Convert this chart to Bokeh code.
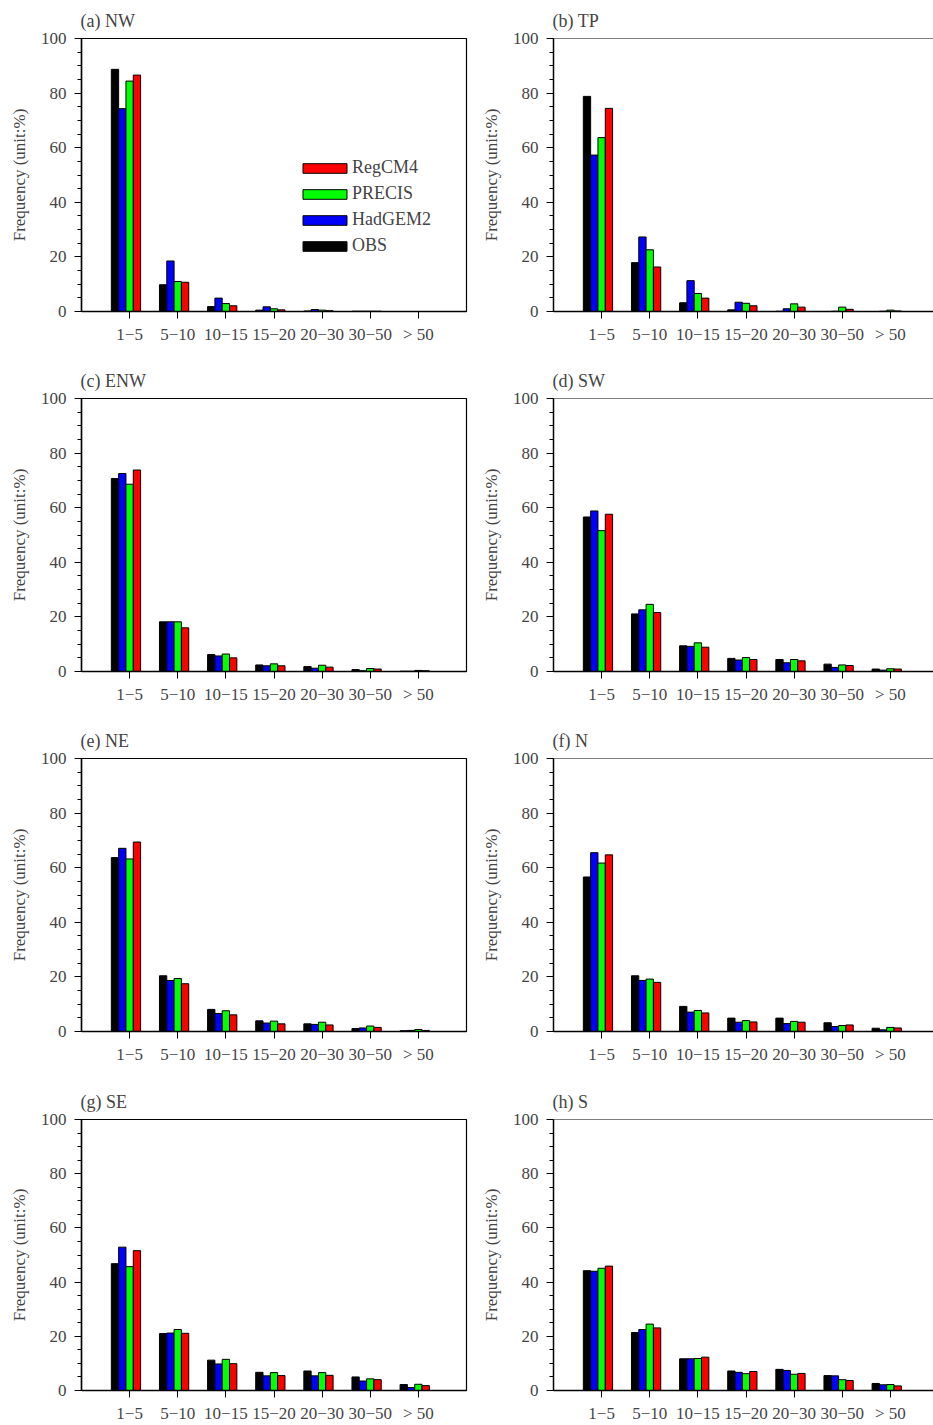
from bokeh.plotting import figure
from bokeh.models import FixedTicker, Legend, LegendItem, Span
from bokeh.layouts import column, row
from bokeh.embed import file_html
from bokeh.resources import INLINE
import numpy as np

FONT = "Liberation Serif"

categories = ["1\u22125", "5\u221210", "10\u221215", "15\u221220", "20\u221230", "30\u221250", "> 50"]
series_names = ["OBS", "HadGEM2", "PRECIS", "RegCM4"]
series_colors = ["#000000", "#0000FF", "#00FF00", "#FF0000"]
panel_titles = ["(a) NW", "(b) TP", "(c) ENW", "(d) SW", "(e) NE", "(f) N", "(g) SE", "(h) S"]
y_ticks = [0, 20, 40, 60, 80, 100]
y_label = "Frequency (unit:%)"

nw_obs = [88.7, 9.8, 1.8, 0.5, 0.2, 0.1, 0.0]
nw_had = [74.3, 18.5, 4.9, 1.7, 0.7, 0.1, 0.0]
nw_prec = [84.4, 11.0, 2.9, 1.0, 0.5, 0.1, 0.0]
nw_reg = [86.6, 10.7, 2.1, 0.6, 0.3, 0.1, 0.0]

tp_obs = [78.8, 17.9, 3.2, 0.6, 0.1, 0.0, 0.0]
tp_had = [57.3, 27.3, 11.3, 3.4, 1.0, 0.1, 0.1]
tp_prec = [63.7, 22.6, 6.6, 3.0, 2.8, 1.6, 0.5]
tp_reg = [74.4, 16.3, 4.9, 2.1, 1.6, 0.8, 0.2]

enw_obs = [70.7, 18.2, 6.2, 2.4, 1.8, 0.7, 0.1]
enw_had = [72.5, 18.2, 5.7, 2.1, 1.2, 0.3, 0.1]
enw_prec = [68.6, 18.2, 6.4, 2.8, 2.3, 1.1, 0.4]
enw_reg = [73.8, 16.0, 5.0, 2.1, 1.6, 0.9, 0.3]

sw_obs = [56.6, 21.1, 9.4, 4.8, 4.4, 2.7, 0.9]
sw_had = [58.8, 22.6, 9.2, 4.2, 3.2, 1.5, 0.5]
sw_prec = [51.6, 24.6, 10.5, 5.1, 4.4, 2.4, 1.0]
sw_reg = [57.6, 21.6, 8.9, 4.4, 3.9, 2.2, 0.9]

ne_obs = [63.7, 20.4, 8.1, 3.9, 2.8, 1.1, 0.3]
ne_had = [67.1, 18.7, 6.6, 3.1, 2.6, 1.3, 0.4]
ne_prec = [63.2, 19.4, 7.6, 3.8, 3.4, 2.0, 0.7]
ne_reg = [69.4, 17.5, 6.1, 2.8, 2.4, 1.5, 0.4]

n_obs = [56.6, 20.4, 9.2, 4.9, 4.9, 3.2, 1.2]
n_had = [65.5, 18.7, 7.1, 3.4, 2.9, 1.8, 0.6]
n_prec = [61.7, 19.2, 7.7, 4.0, 3.7, 2.2, 1.5]
n_reg = [64.7, 18.0, 6.8, 3.5, 3.4, 2.4, 1.3]

se_obs = [46.8, 21.0, 11.2, 6.7, 7.2, 5.0, 2.2]
se_had = [52.9, 21.2, 9.8, 5.4, 5.4, 3.5, 1.1]
se_prec = [45.7, 22.5, 11.5, 6.6, 6.6, 4.3, 2.3]
se_reg = [51.6, 21.1, 9.9, 5.5, 5.6, 4.0, 1.8]

s_obs = [44.2, 21.4, 11.7, 7.2, 7.8, 5.5, 2.6]
s_had = [44.0, 22.5, 11.7, 6.7, 7.4, 5.4, 2.1]
s_prec = [45.1, 24.5, 11.8, 6.2, 6.0, 4.0, 2.2]
s_reg = [45.9, 23.1, 12.3, 7.0, 6.3, 3.7, 1.7]

panels_data = [
    [nw_obs, nw_had, nw_prec, nw_reg],
    [tp_obs, tp_had, tp_prec, tp_reg],
    [enw_obs, enw_had, enw_prec, enw_reg],
    [sw_obs, sw_had, sw_prec, sw_reg],
    [ne_obs, ne_had, ne_prec, ne_reg],
    [n_obs, n_had, n_prec, n_reg],
    [se_obs, se_had, se_prec, se_reg],
    [s_obs, s_had, s_prec, s_reg],
]

BAR_W = 0.152
OFFSETS = [-2, -1, 0, 1]
X_START, X_END_FULL = -1.0, 7.0
FRAME_W = 385
BORDER_L = 81


def make_panel(idx, title, data, is_right, height, border_top, border_bottom):
    if is_right:
        width = 461
        border_r = 0
    else:
        width = 472
        border_r = 6
    frame_w = width - BORDER_L - border_r
    x_end = X_START + frame_w * (X_END_FULL - X_START) / FRAME_W
    p = figure(width=width, height=height, output_backend="svg", toolbar_location=None,
               x_range=(X_START, x_end), y_range=(0, 100),
               min_border_left=BORDER_L, min_border_right=border_r,
               min_border_top=border_top, min_border_bottom=border_bottom)
    p.title.text = title
    p.title.text_font = FONT
    p.title.text_font_size = "18px"
    p.title.text_font_style = "normal"
    p.title.align = "left"
    p.title.offset = -1
    p.title.standoff = 16
    p.xgrid.visible = False
    p.ygrid.visible = False
    p.background_fill_color = "white"
    p.border_fill_color = "white"
    if is_right:
        p.outline_line_color = None
        p.add_layout(Span(location=100, dimension="width", line_color="black", line_width=1.2))
    else:
        p.outline_line_color = "black"
        p.outline_line_width = 1.2

    x = np.arange(len(categories))
    renderers = []
    for k, vals in enumerate(data):
        r = p.vbar(x=x + OFFSETS[k] * BAR_W, top=vals, bottom=0, width=BAR_W,
                   fill_color=series_colors[k], line_color="black", line_width=1)
        renderers.append(r)

    xa = p.xaxis[0]
    xa.ticker = FixedTicker(ticks=list(x))
    xa.major_label_overrides = {int(i): c for i, c in zip(x, categories)}
    xa.major_label_text_font = FONT
    xa.major_label_text_font_size = "17px"
    xa.major_tick_out = 7
    xa.major_tick_in = 0
    xa.minor_tick_line_color = None
    xa.axis_line_width = 1.5
    xa.major_label_standoff = 6

    ya = p.yaxis[0]
    ya.ticker = FixedTicker(ticks=y_ticks, minor_ticks=list(range(0, 101, 5)))
    ya.major_label_text_font = FONT
    ya.major_label_text_font_size = "17px"
    ya.major_tick_out = 7
    ya.major_tick_in = 0
    ya.minor_tick_out = 4
    ya.minor_tick_in = 0
    ya.axis_line_width = 1.5
    ya.major_label_standoff = 8
    ya.axis_label = y_label
    ya.axis_label_text_font = FONT
    ya.axis_label_text_font_size = "17px"
    ya.axis_label_text_font_style = "normal"
    ya.axis_label_standoff = 9

    if idx == 0:
        items = [LegendItem(label=series_names[k], renderers=[renderers[k]]) for k in [3, 2, 1, 0]]
        legend = Legend(items=items, location=(216, 55), glyph_width=55, glyph_height=12,
                        label_standoff=0, spacing=5, padding=0, margin=0,
                        border_line_color=None, background_fill_alpha=0,
                        label_text_font=FONT, label_text_font_size="18px")
        p.add_layout(legend)
    return p


rows = []
for r in range(4):
    h = 360 if r < 3 else 345
    bt = 38 if r < 3 else 39
    bb = h - bt - 273
    left = make_panel(2 * r, panel_titles[2 * r], panels_data[2 * r], False, h, bt, bb)
    right = make_panel(2 * r + 1, panel_titles[2 * r + 1], panels_data[2 * r + 1], True, h, bt, bb)
    rows.append(row(left, right))

layout = column(*rows)
open("out.html", "w").write(file_html(layout, INLINE))
